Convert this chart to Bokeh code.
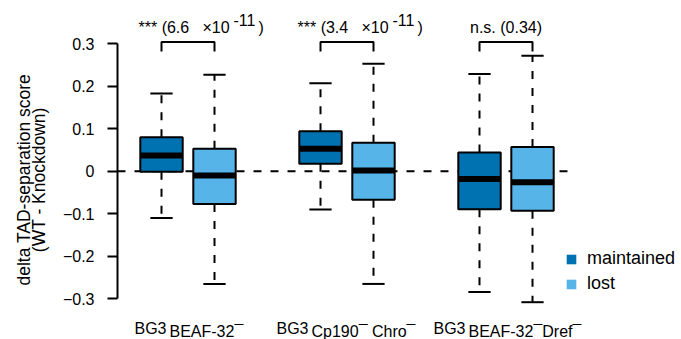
from bokeh.plotting import figure
from bokeh.models import Range1d, ColumnDataSource, Legend, LegendItem, FixedTicker
from bokeh.core.properties import value
from bokeh.embed import file_html
from bokeh.resources import INLINE

# ---------------- data ----------------
series_names = ["maintained", "lost"]
series_colors = ["#0072B2", "#56B4E9"]
group_centers = [1.5, 4.5, 7.5]
maint_x = [1, 4, 7]
lost_x = [2, 5, 8]
maint_upper = [0.183, 0.207, 0.229]
maint_q3 = [0.080, 0.094, 0.044]
maint_median = [0.037, 0.053, -0.018]
maint_q1 = [-0.001, 0.018, -0.089]
maint_lower = [-0.110, -0.090, -0.284]
lost_upper = [0.227, 0.253, 0.272]
lost_q3 = [0.053, 0.067, 0.057]
lost_median = [-0.010, 0.002, -0.026]
lost_q1 = [-0.077, -0.067, -0.093]
lost_lower = [-0.265, -0.265, -0.308]
sig_marks = ["***", "***", "n.s."]
p_mantissa = ["6.6", "3.4", "0.34"]
p_exponent = ["-11", "-11", ""]
label_prefix = ["BG3", "BG3", "BG3"]
label_main = ["BEAF-32\u00af", "Cp190\u00af Chro\u00af", "BEAF-32\u00afDref\u00af"]
y_ticks = [-0.3, -0.2, -0.1, 0, 0.1, 0.2, 0.3]
y_tick_labels = ["\u22120.3", "\u22120.2", "\u22120.1", "0", "0.1", "0.2", "0.3"]
y_title_lines = ["delta TAD-separation score", "(WT - Knockdown)"]

# ---------------- layout constants ----------------
FONT = "Liberation Sans"
BOX_W = 0.8
CAP_HALF = 0.21
BRACKET_TOP = 0.304
BRACKET_BOTTOM = 0.282
ANN_Y = 0.3384
XLAB_Y = -0.3692
XLAB_SPLIT = [-20, -37, -39]
ZERO_LINE_END = 8.66
DASH = "8 9"
NAN = float("nan")
PAD = "\u00a0" * 4   # shifts the rotated title a little downwards

p = figure(width=681, height=339, output_backend="svg", toolbar_location=None,
           x_range=Range1d(0.16981, 10.8113), y_range=Range1d(-0.39576, 0.40188),
           x_axis_location=None, y_axis_location="left",
           min_border_left=117, min_border_right=0, min_border_top=0, min_border_bottom=0)
p.outline_line_color = None
p.xgrid.visible = False
p.ygrid.visible = False
p.background_fill_color = None
p.border_fill_color = "white"

ax = p.yaxis[0]
ax.ticker = FixedTicker(ticks=y_ticks)
ax.major_label_overrides = {t: l for t, l in zip(y_ticks, y_tick_labels)}
ax.bounds = (y_ticks[0], y_ticks[-1])
ax.axis_line_width = 2
ax.major_tick_line_width = 2
ax.major_tick_out = 10
ax.major_tick_in = 0
ax.minor_tick_out = 0
ax.minor_tick_in = 0
ax.major_label_standoff = 13
ax.major_label_text_font = FONT
ax.major_label_text_font_size = "16px"
ax.major_label_text_color = "black"
ax.axis_label = "\n".join(line + PAD for line in y_title_lines)
ax.axis_label_text_font = FONT
ax.axis_label_text_font_size = "17.5px"
ax.axis_label_text_font_style = "normal"
ax.axis_label_text_color = "black"
ax.axis_label_text_line_height = 0.75
ax.axis_label_standoff = 11

# zero reference line
p.segment(x0=[p.x_range.start], y0=[0], x1=[ZERO_LINE_END], y1=[0],
          line_color="black", line_width=2, line_dash=DASH)

for xs, up, q3, med, q1, lo, col in [
    (maint_x, maint_upper, maint_q3, maint_median, maint_q1, maint_lower, series_colors[0]),
    (lost_x, lost_upper, lost_q3, lost_median, lost_q1, lost_lower, series_colors[1]),
]:
    src = ColumnDataSource(dict(
        x=xs, up=up, q3=q3, med=med, q1=q1, lo=lo,
        xl=[x - CAP_HALF for x in xs], xr=[x + CAP_HALF for x in xs],
        bl=[x - BOX_W / 2 for x in xs], br=[x + BOX_W / 2 for x in xs]))
    p.segment(x0="x", y0="q3", x1="x", y1="up", source=src,
              line_color="black", line_width=2, line_dash=DASH)
    p.segment(x0="x", y0="q1", x1="x", y1="lo", source=src,
              line_color="black", line_width=2, line_dash=DASH)
    p.segment(x0="xl", y0="up", x1="xr", y1="up", source=src, line_color="black", line_width=2)
    p.segment(x0="xl", y0="lo", x1="xr", y1="lo", source=src, line_color="black", line_width=2)
    p.vbar(x="x", top="q3", bottom="q1", width=BOX_W, source=src,
           fill_color=col, line_color="black", line_width=2)
    p.segment(x0="bl", y0="med", x1="br", y1="med", source=src,
              line_color="black", line_width=6)

# significance brackets
p.multi_line(xs=[[a, a, b, b] for a, b in zip(maint_x, lost_x)],
             ys=[[BRACKET_BOTTOM, BRACKET_TOP, BRACKET_TOP, BRACKET_BOTTOM]] * 3,
             line_color="black", line_width=2)

tf = dict(text_font=value(FONT), text_color="black", text_baseline="alphabetic")
for c, s, m, e in zip(group_centers, sig_marks, p_mantissa, p_exponent):
    if e:
        p.text(x=[c], y=[ANN_Y], text=[f"{s} ({m}"], x_offset=-49.5,
               text_align="left", text_font_size="16px", **tf)
        p.text(x=[c], y=[ANN_Y], text=["\u00d710"], x_offset=14.5,
               text_align="left", text_font_size="16px", **tf)
        p.text(x=[c], y=[ANN_Y], text=[e], x_offset=45.5, y_offset=-7,
               text_align="left", text_font_size="16px", **tf)
        p.text(x=[c], y=[ANN_Y], text=[")"], x_offset=70.5,
               text_align="left", text_font_size="16px", **tf)
    else:
        p.text(x=[c], y=[ANN_Y], text=[f"{s} ({m})"],
               text_align="center", text_font_size="16px", **tf)

# group labels
for c, pre, main, off in zip(group_centers, label_prefix, label_main, XLAB_SPLIT):
    p.text(x=[c], y=[XLAB_Y], text=[pre], x_offset=off - 1.5,
           text_align="right", text_font_size="16px", **tf)
    p.text(x=[c], y=[XLAB_Y], text=[main], x_offset=off + 1.5, y_offset=3,
           text_align="left", text_font_size="16px", **tf)

# legend (proxy renderers without visible data)
leg_r = [p.vbar(x=[NAN], top=[NAN], bottom=[NAN], width=BOX_W, fill_color=c, line_color=None)
         for c in series_colors]
legend = Legend(items=[LegendItem(label=n, renderers=[r]) for n, r in zip(series_names, leg_r)],
                location=(448, 45), orientation="vertical",
                glyph_width=12, glyph_height=12, label_standoff=10, spacing=4,
                padding=0, margin=0, border_line_color=None, background_fill_alpha=0,
                label_text_font=FONT, label_text_font_size="18px", label_height=20,
                label_text_color="black")
p.add_layout(legend)

open("out.html", "w").write(file_html(p, INLINE))
